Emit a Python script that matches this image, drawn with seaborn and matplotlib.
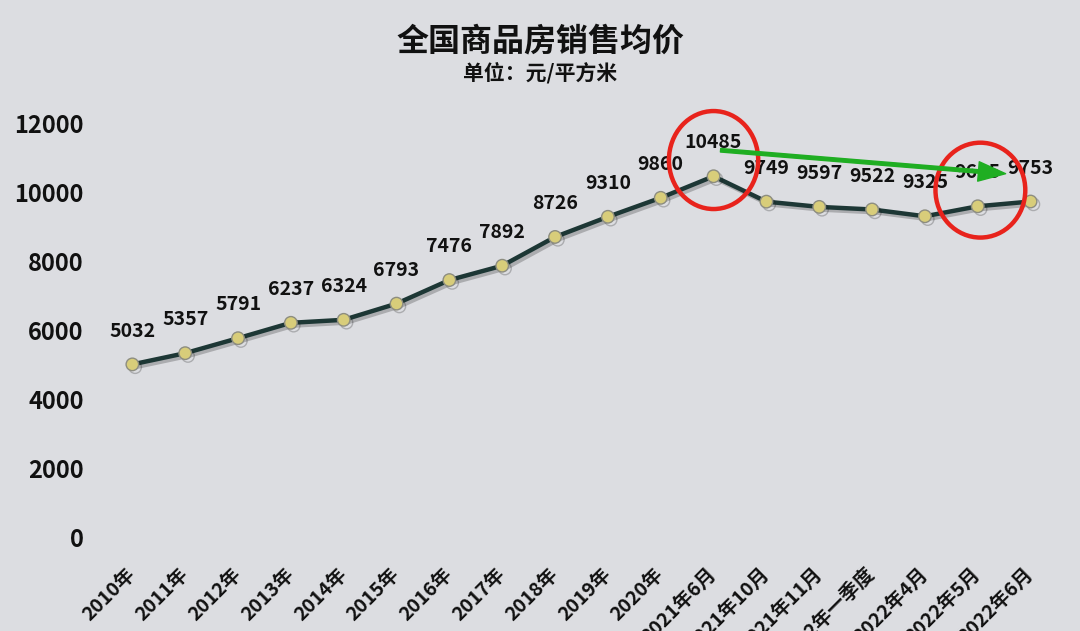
import numpy as np
import pandas as pd
import matplotlib
matplotlib.use("Agg")
import matplotlib.pyplot as plt
import matplotlib.patheffects as pe
from matplotlib.patches import Ellipse, FancyArrowPatch
import seaborn as sns

# ---- data ----
periods = ["2010年", "2011年", "2012年", "2013年", "2014年", "2015年", "2016年",
           "2017年", "2018年", "2019年", "2020年", "2021年6月", "2021年10月",
           "2021年11月", "2022年一季度", "2022年4月", "2022年5月", "2022年6月"]
prices = [5032, 5357, 5791, 6237, 6324, 6793, 7476, 7892, 8726, 9310, 9860,
          10485, 9749, 9597, 9522, 9325, 9615, 9753]
y_ticks = [0, 2000, 4000, 6000, 8000, 10000, 12000]
title = "全国商品房销售均价"
subtitle = "单位：元/平方米"

df = pd.DataFrame({"idx": np.arange(len(periods)), "period": periods, "price": prices})

sns.set_theme(style="white")
plt.rcParams["font.family"] = ["Noto Sans CJK SC", "DejaVu Sans"]

bg = "#dcdde1"
fig = plt.figure(figsize=(10.8, 6.31), dpi=100, facecolor=bg)
ax = fig.add_axes([0.0981, 0.1474, 0.8806, 0.6561])
ax.set_facecolor(bg)

line_color = "#1d3735"
sns.lineplot(data=df, x="idx", y="price", ax=ax, color=line_color, linewidth=3.2,
             marker="o", markersize=9, markerfacecolor="#d8cd7a",
             markeredgecolor="#8d8d80", markeredgewidth=1.0, sort=False,
             path_effects=[pe.SimpleLineShadow(offset=(2, -2), alpha=0.25), pe.Normal()])

ax.set_xlim(-0.5, len(periods) - 0.5)
ax.set_ylim(0, 12000)
ax.set_yticks(y_ticks)
ax.set_yticklabels([str(v) for v in y_ticks], fontsize=17, fontweight="bold", color="#111111")
ax.set_xticks(df["idx"])
ax.set_xticklabels(periods, rotation=45, ha="right", va="center", rotation_mode="anchor",
                   fontsize=14, fontweight="bold", color="#111111")
ax.tick_params(axis="x", length=0, pad=24)
ax.tick_params(axis="y", length=0, pad=16)
ax.set_xlabel("")
ax.set_ylabel("")
for s in ax.spines.values():
    s.set_visible(False)
ax.grid(False)

# data labels
for i, v in zip(df["idx"], df["price"]):
    ax.annotate(str(v), (i, v), xytext=(0, 24), textcoords="offset points",
                ha="center", va="center", fontsize=14, fontweight="bold",
                color="#111111", annotation_clip=False)

# red circles
peak_i = int(np.argmax(prices))
last_i = len(prices) - 1
ax.add_patch(Ellipse((peak_i, prices[peak_i] + 470), 1.69, 2840, fill=False,
                     edgecolor="#e8231c", linewidth=3.2, clip_on=False, zorder=5))
ax.add_patch(Ellipse((last_i - 0.95, prices[last_i] + 330), 1.70, 2750, fill=False,
                     edgecolor="#e8231c", linewidth=3.2, clip_on=False, zorder=5))

# green arrow
arrow = FancyArrowPatch((peak_i + 0.08, prices[peak_i] + 760),
                        (last_i - 0.42, prices[last_i] + 800),
                        arrowstyle="simple,head_length=1.4,head_width=1.0,tail_width=0.18",
                        mutation_scale=14, color="#1fae22", clip_on=False, zorder=6)
ax.add_patch(arrow)

fig.text(0.5, 0.935, title, ha="center", va="center", fontsize=23, fontweight="bold", color="#111111")
fig.text(0.5, 0.885, subtitle, ha="center", va="center", fontsize=15, fontweight="bold", color="#111111")

fig.savefig("out.png", dpi=100, facecolor=bg)
